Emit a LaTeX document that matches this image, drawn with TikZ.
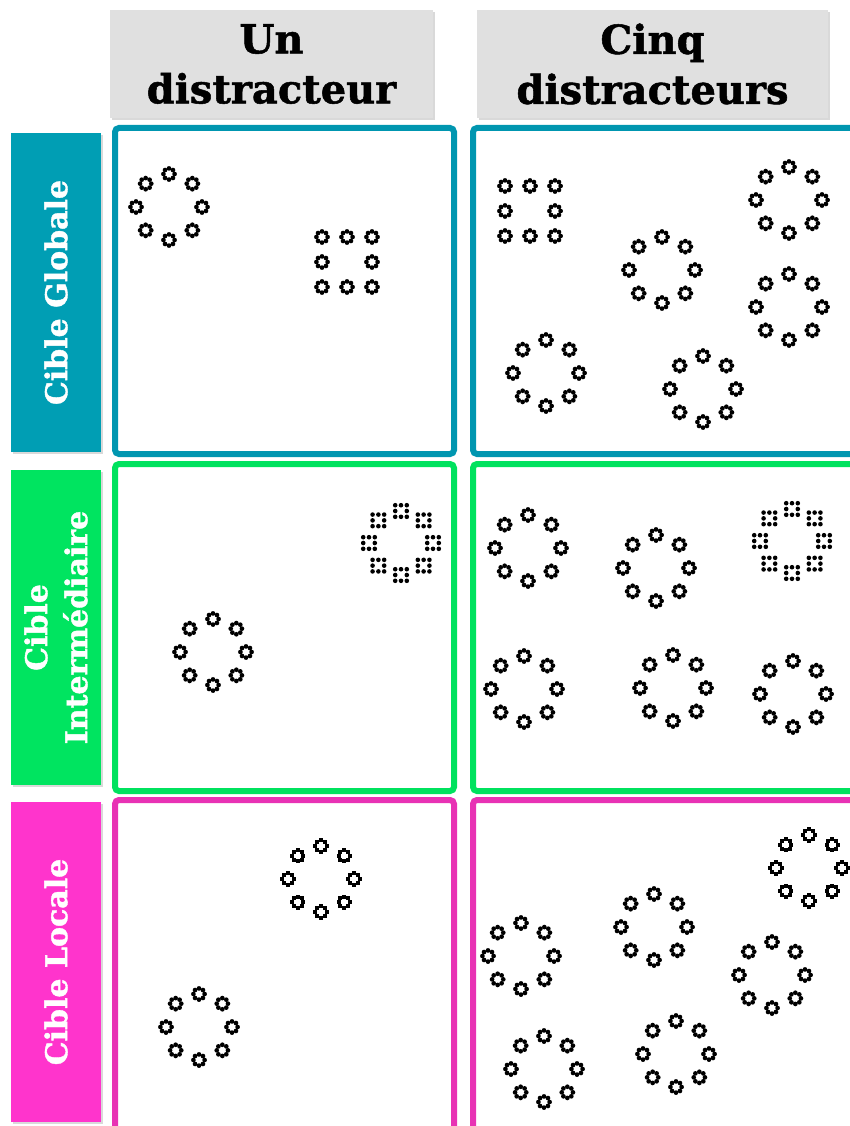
\documentclass[tikz,border=0pt]{standalone}
\usepackage{fontspec}
\setmainfont{DejaVu Serif}[BoldFeatures={FakeBold=1.3}]
\usetikzlibrary{shadows}
\definecolor{tealL}{RGB}{0,158,180}
\definecolor{tealB}{RGB}{0,150,176}
\definecolor{greenL}{RGB}{0,228,96}
\definecolor{greenB}{RGB}{0,226,94}
\definecolor{magL}{RGB}{255,52,204}
\definecolor{magB}{RGB}{232,50,180}
\definecolor{hdrgray}{RGB}{224,224,224}
\tikzset{
  dotring/.pic={\foreach \a in {0,45,...,315} \fill (\a:5.6pt) circle[radius=2.35pt];},
  sqring/.pic={\foreach \a in {0,45,...,315} \fill[shift={(\a:5.6pt)}] (-2.05pt,-2.05pt) rectangle (2.05pt,2.05pt);},
  dotsq/.pic={\foreach \i/\j in {-1/-1,0/-1,1/-1,-1/0,1/0,-1/1,0/1,1/1} \fill (\i*5.8pt,\j*5.8pt) circle[radius=2.3pt];},
  globT/.pic={\foreach \a in {0,45,...,315} \pic at (\a:33pt) {dotring};},
  squT/.pic={\foreach \i/\j in {-1/-1,0/-1,1/-1,-1/0,1/0,-1/1,0/1,1/1} \pic at (\i*25pt,\j*25pt) {dotring};},
  interT/.pic={\foreach \a in {0,45,...,315} \pic at (\a:32pt) {dotsq};},
  locT/.pic={\foreach \a in {0,45,...,315} \pic at (\a:33pt) {sqring};},
  hdr/.style={fill=hdrgray, align=center, inner sep=0pt, minimum height=108pt,
    font=\bfseries\fontsize{40}{50}\selectfont,
    drop shadow={shadow xshift=2pt,shadow yshift=-2pt,opacity=0.3}},
  lab/.style={rotate=90, align=center, inner sep=0pt, text=white, minimum height=90pt,
    font=\bfseries\fontsize{30}{40}\selectfont,
    drop shadow={shadow xshift=2pt,shadow yshift=-2pt,opacity=0.3}},
  cell/.style={line width=6pt, rounded corners=4pt}
}
\begin{document}
\begin{tikzpicture}[x=1pt,y=-1pt]
\useasboundingbox (0,0) rectangle (850,1126);
\clip (0,0) rectangle (850,1126);
% headers
\node[hdr, minimum width=323pt] (h1) at (271.5,64) {Un\\distracteur};
\node[hdr, minimum width=351pt] (h2) at (652.5,64) {Cinq\\distracteurs};
% row labels
\node[lab, fill=tealL, minimum width=319pt] (l1) at (56,292.5) {Cible Globale};
\node[lab, fill=greenL, minimum width=315pt] (l2) at (56,627.5) {Cible\\Intermédiaire};
\node[lab, fill=magL, minimum width=320pt] (l3) at (56,962) {Cible Locale};
% cells
\draw[cell, draw=tealB] (115,128) rectangle (454,454);
\draw[cell, draw=tealB] (473,128) rectangle (866,454);
\draw[cell, draw=greenB] (115,464) rectangle (454,791);
\draw[cell, draw=greenB] (473,464) rectangle (866,791);
\draw[cell, draw=magB] (115,800) rectangle (454,1140);
\draw[cell, draw=magB] (473,800) rectangle (866,1140);
% row 1
\pic at (169,207) {globT};
\pic at (347,262) {squT};
\pic at (530,211) {squT};
\pic at (789,200) {globT};
\pic at (662,270) {globT};
\pic at (789,307) {globT};
\pic at (546,373) {globT};
\pic at (703,389) {globT};
% row 2
\pic at (401,543) {interT};
\pic at (213,652) {globT};
\pic at (528,548) {globT};
\pic at (656,568) {globT};
\pic at (792,541) {interT};
\pic at (524,689) {globT};
\pic at (673,688) {globT};
\pic at (793,694) {globT};
% row 3
\pic at (321,879) {locT};
\pic at (199,1027) {globT};
\pic at (809,868) {locT};
\pic at (521,956) {globT};
\pic at (654,927) {globT};
\pic at (772,975) {globT};
\pic at (544,1069) {globT};
\pic at (676,1054) {globT};
\end{tikzpicture}
\end{document}
